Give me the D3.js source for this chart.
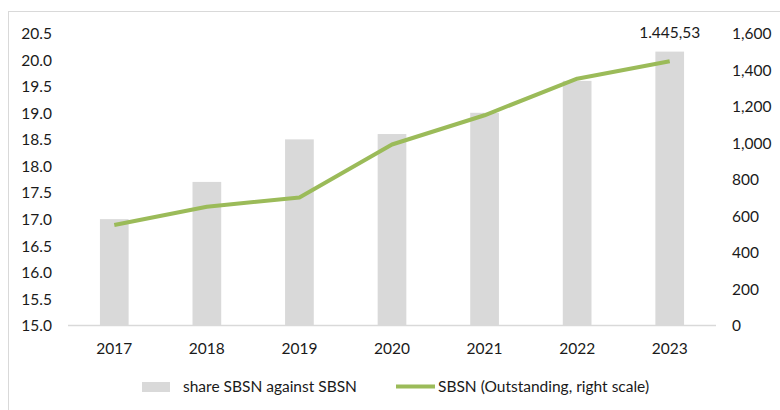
<!DOCTYPE html>
<html><head><meta charset="utf-8">
<script src="https://cdn.jsdelivr.net/npm/d3@7"></script>
<style>
body{margin:0;background:#fff;}
svg text{font-family:Lato,"Open Sans",sans-serif;fill:#1a1a1a;}
</style></head>
<body><svg id="c" width="780" height="410"></svg>
<script>
const years = ["2017","2018","2019","2020","2021","2022","2023"];
const shareValues = [17.0, 17.7, 18.5, 18.6, 19.0, 19.6, 20.15];
const outstandingValues = [550, 650, 700, 990, 1150, 1350, 1445.53];
const leftTicks = [15.0,15.5,16.0,16.5,17.0,17.5,18.0,18.5,19.0,19.5,20.0,20.5];
const rightTicks = [0,200,400,600,800,1000,1200,1400,1600];
const lastLabel = "1.445,53";
const legendLabels = ["share SBSN against SBSN","SBSN (Outstanding, right scale)"];

const svg = d3.select("#c");
const fs = 15.5;
// frame
svg.append("rect").attr("x",8.5).attr("y",11.5).attr("width",790).attr("height",420)
  .attr("fill","none").attr("stroke","#d9d9d9");

const x = d3.scaleBand().domain(years).range([68,716]).paddingInner(0.69).paddingOuter(0.345);
const yL = d3.scaleLinear().domain([15,20.5]).range([325.5,33]);
const yR = d3.scaleLinear().domain([0,1600]).range([325.5,33]);

// bars
svg.selectAll("rect.bar").data(years).join("rect").attr("class","bar")
  .attr("x",d=>x(d)).attr("width",x.bandwidth())
  .attr("y",(d,i)=>yL(shareValues[i])).attr("height",(d,i)=>yL(15)-yL(shareValues[i]))
  .attr("fill","#d9d9d9");

// baseline
svg.append("line").attr("x1",68).attr("x2",716).attr("y1",yL(15)).attr("y2",yL(15))
  .attr("stroke","#d9d9d9").attr("stroke-width",1.5);

// left axis
const gl = svg.append("g").attr("transform","translate(52,0)")
  .call(d3.axisLeft(yL).tickValues(leftTicks).tickFormat(d3.format(".1f")).tickSize(0).tickPadding(0));
gl.select(".domain").remove();
gl.selectAll("text").attr("font-size",fs).attr("dy","0.35em");

// right axis
const gr = svg.append("g").attr("transform","translate(732,0)")
  .call(d3.axisRight(yR).tickValues(rightTicks).tickFormat(d3.format(",")).tickSize(0).tickPadding(0));
gr.select(".domain").remove();
gr.selectAll("text").attr("font-size",fs).attr("dy","0.35em");

// x axis
const gx = svg.append("g").attr("transform",`translate(0,${yL(15)})`)
  .call(d3.axisBottom(x).tickSize(0).tickPadding(0));
gx.select(".domain").remove();
gx.selectAll("text").attr("font-size",fs).attr("dy",0).attr("y",28);

// line
const cx = d=>x(d)+x.bandwidth()/2;
svg.append("path").datum(years)
  .attr("d",d3.line().x(cx).y((d,i)=>yR(outstandingValues[i])))
  .attr("fill","none").attr("stroke","#9bbb59").attr("stroke-width",4).attr("stroke-linejoin","round");

// label
svg.append("text").attr("x",cx(years[6])).attr("y",38).attr("text-anchor","middle")
  .attr("font-size",fs).text(lastLabel);

// legend
svg.append("rect").attr("x",142).attr("y",382).attr("width",28).attr("height",10).attr("fill","#d9d9d9");
svg.append("text").attr("x",183).attr("y",387).attr("dy","0.35em").attr("font-size",fs).text(legendLabels[0]);
svg.append("line").attr("x1",396).attr("x2",435).attr("y1",386.5).attr("y2",386.5)
  .attr("stroke","#9bbb59").attr("stroke-width",4);
svg.append("text").attr("x",438).attr("y",387).attr("dy","0.35em").attr("font-size",fs).text(legendLabels[1]);
</script></body></html>
